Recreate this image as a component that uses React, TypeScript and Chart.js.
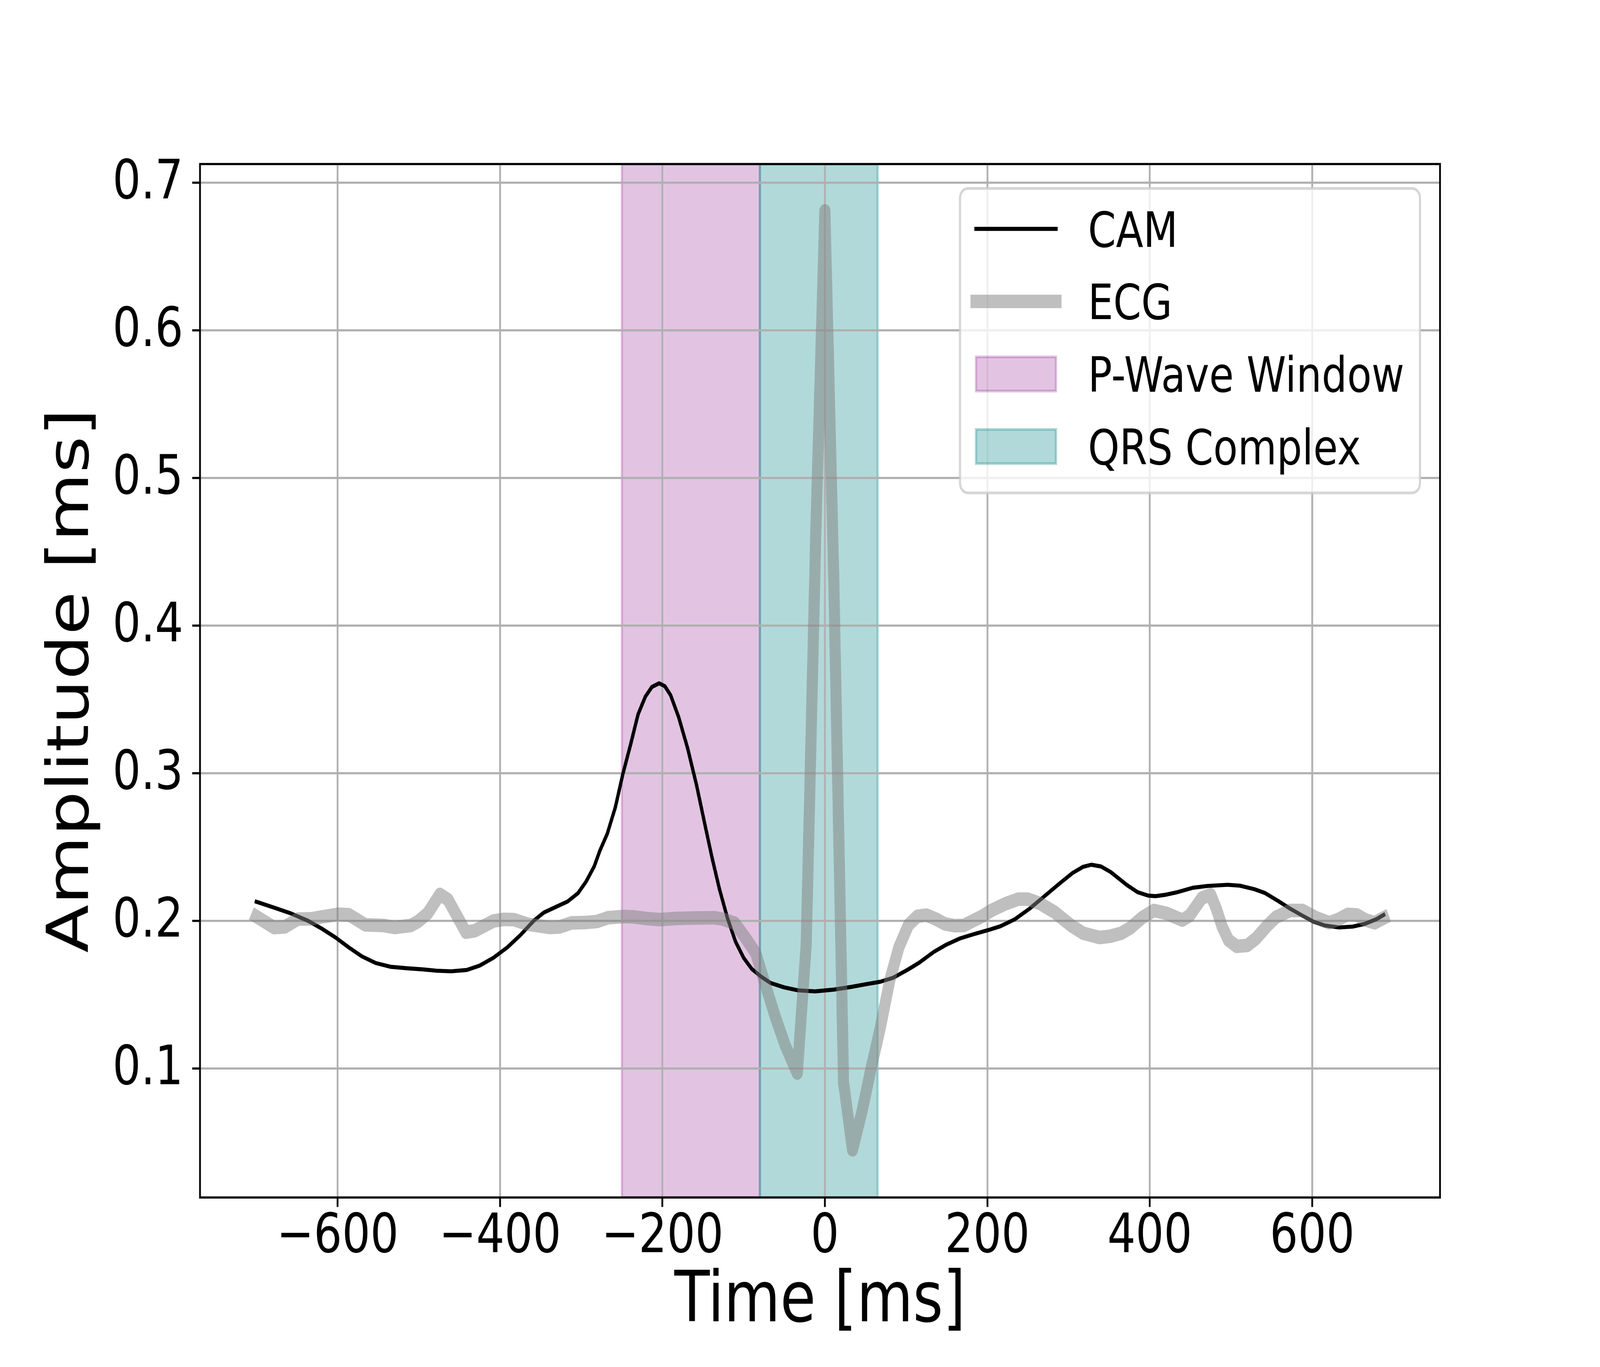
import React, { useEffect, useRef } from "react";
import { Chart, registerables } from "chart.js";

Chart.register(...registerables);

// CAM curve (time in ms, amplitude)
const CAM_TIME = [
  -700, -678, -657, -636, -620, -603, -586, -570, -553, -535, -515, -495, -478, -460, -441, -425,
  -408, -391, -375, -358, -346, -329, -317, -304, -294, -284, -277, -268, -258, -249, -239, -230,
  -221, -213, -204, -197, -190, -180, -169, -158, -148, -139, -130, -120, -110, -100, -90, -79,
  -67, -50, -33, -12, 11, 32, 52, 68, 84, 102, 116, 134, 149, 167, 183, 201,
  216, 234, 252, 270, 289, 305, 318, 328, 340, 352, 372, 385, 398, 407, 420, 434,
  453, 471, 496, 511, 529, 542, 558, 573, 588, 602, 615, 633, 650, 664, 679, 688,
];
const CAM_VALUE = [
  0.213, 0.209, 0.205, 0.2, 0.195, 0.189, 0.182, 0.176, 0.1715, 0.169, 0.168, 0.1672, 0.1663, 0.1659, 0.1668, 0.1698,
  0.1751, 0.1821, 0.1904, 0.2004, 0.2057, 0.2101, 0.2131, 0.2188, 0.2267, 0.237, 0.2477, 0.259, 0.277, 0.299, 0.32, 0.34,
  0.352, 0.3585, 0.361, 0.359, 0.353, 0.338, 0.317, 0.292, 0.266, 0.243, 0.222, 0.202, 0.186, 0.175, 0.1675, 0.1625,
  0.158, 0.155, 0.153, 0.1523, 0.1535, 0.1553, 0.1573, 0.1588, 0.1615, 0.167, 0.1717, 0.179, 0.1838, 0.1883, 0.191, 0.1938,
  0.1964, 0.2012, 0.2083, 0.2166, 0.2254, 0.2325, 0.2367, 0.2381, 0.2369, 0.2331, 0.2243, 0.2195, 0.2172, 0.2168, 0.2178, 0.2195,
  0.2225, 0.2237, 0.2245, 0.2239, 0.2215, 0.2189, 0.2136, 0.2083, 0.2036, 0.1994, 0.197, 0.1956, 0.1962, 0.1979, 0.2012, 0.2041,
];

// ECG curve (time in ms, amplitude)
const ECG_TIME = [
  -700, -678, -665, -649, -632, -620, -599, -586, -566, -543, -530, -510, -501, -489, -474, -464,
  -442, -431, -408, -395, -383, -366, -339, -327, -312, -294, -281, -267, -248, -236, -221, -203,
  -184, -159, -136, -126, -111, -97, -85, -74, -61, -49, -34, -23, -11, 0,
  11, 23, 34, 46, 57, 68, 80, 91, 103, 114, 125, 137, 148, 160, 171, 182,
  194, 205, 223, 238, 250, 265, 283, 303, 318, 338, 351, 365, 376, 391, 405, 420,
  440, 449, 464, 475, 482, 489, 497, 507, 520, 531, 544, 555, 573, 588, 604, 621,
  633, 644, 655, 666, 677, 688,
];
const ECG_VALUE = [
  0.203, 0.1955, 0.196, 0.2013, 0.2015, 0.2027, 0.2046, 0.2042, 0.1974, 0.1969, 0.1956, 0.1969, 0.1996, 0.2052, 0.218, 0.2144,
  0.1924, 0.1934, 0.2, 0.2011, 0.2009, 0.1978, 0.1956, 0.1959, 0.1987, 0.199, 0.1996, 0.2022, 0.203, 0.2028, 0.2017, 0.2009,
  0.2017, 0.202, 0.2022, 0.2013, 0.1985, 0.188, 0.178, 0.158, 0.135, 0.116, 0.097, 0.184, 0.467, 0.681,
  0.43, 0.0906, 0.045, 0.0717, 0.1005, 0.127, 0.16, 0.182, 0.1974, 0.2032, 0.204, 0.2012, 0.198, 0.1968, 0.197, 0.2,
  0.2033, 0.2071, 0.2118, 0.2148, 0.2148, 0.2118, 0.2059, 0.197, 0.1917, 0.1888, 0.1896, 0.1917, 0.1953, 0.2024, 0.2071, 0.2053,
  0.2006, 0.2036, 0.2154, 0.2178, 0.2083, 0.1964, 0.187, 0.1828, 0.1834, 0.1882, 0.1964, 0.2024, 0.2071, 0.2071, 0.2024, 0.1988,
  0.2012, 0.2045, 0.2041, 0.2006, 0.1988, 0.202,
];

const P_WAVE_WINDOW = [-250, -80];
const QRS_WINDOW = [-80, 65];

const X_TICKS = [-600, -400, -200, 0, 200, 400, 600];
const Y_TICKS = [0.1, 0.2, 0.3, 0.4, 0.5, 0.6, 0.7];

const X_LIMITS = [-769.4, 757.4];
const Y_LIMITS = [0.0127, 0.7127];

// sizes (figure drawn at 500 dpi on a 5000 x 3500 backing store)
const PT = 500 / 72;
const FONT = "DejaVu Sans";
const TICK_SIZE = 20 * PT;
const LABEL_SIZE = 26 * PT;
const LEGEND_SIZE = 18 * PT;

const W = 5000;
const H = 3500;
const AREA = { left: 625, right: 4500, top: 420, bottom: 3066 };

const PURPLE = "rgba(128, 0, 128, 0.23)";
const TEAL = "rgba(0, 128, 128, 0.3)";
const ECG_COLOR = "rgba(128, 128, 128, 0.5)";

const SPANS = [
  { range: P_WAVE_WINDOW, color: PURPLE },
  { range: QRS_WINDOW, color: TEAL },
];

const LEGEND_ITEMS = [
  { label: "CAM", kind: "line", color: "#000000", width: 1.5 * PT },
  { label: "ECG", kind: "line", color: ECG_COLOR, width: 5 * PT },
  { label: "P-Wave Window", kind: "patch", color: PURPLE, width: PT },
  { label: "QRS Complex", kind: "patch", color: TEAL, width: PT },
];

const spansPlugin = {
  id: "spans",
  beforeDraw(chart: any) {
    const { ctx, chartArea: a } = chart;
    const x = chart.scales.x;
    ctx.save();
    ctx.beginPath();
    ctx.rect(a.left, a.top, a.right - a.left, a.bottom - a.top);
    ctx.clip();
    for (const s of SPANS) {
      const x0 = x.getPixelForValue(s.range[0]);
      const x1 = x.getPixelForValue(s.range[1]);
      ctx.fillStyle = s.color;
      ctx.fillRect(x0, a.top, x1 - x0, a.bottom - a.top);
      ctx.strokeStyle = s.color;
      ctx.lineWidth = PT;
      ctx.strokeRect(x0, a.top, x1 - x0, a.bottom - a.top);
    }
    ctx.restore();
  },
};

const framePlugin = {
  id: "frame",
  afterDatasetsDraw(chart: any) {
    const { ctx, chartArea: a } = chart;
    ctx.save();
    ctx.strokeStyle = "#000000";
    ctx.lineWidth = 0.8 * PT;
    ctx.lineJoin = "miter";
    ctx.strokeRect(a.left, a.top, a.right - a.left, a.bottom - a.top);
    ctx.restore();
  },
};

const legendPlugin = {
  id: "mplLegend",
  afterDraw(chart: any) {
    const { ctx, chartArea: a } = chart;
    const fs = LEGEND_SIZE;
    const w = 11.5 * fs;
    const h = 6.236 * fs;
    const right = a.right - 0.5 * fs;
    const top = a.top + 0.5 * fs;
    const left = right - w;
    const r = 0.2 * fs;

    ctx.save();
    ctx.beginPath();
    ctx.moveTo(left + r, top);
    ctx.lineTo(right - r, top);
    ctx.arcTo(right, top, right, top + r, r);
    ctx.lineTo(right, top + h - r);
    ctx.arcTo(right, top + h, right - r, top + h, r);
    ctx.lineTo(left + r, top + h);
    ctx.arcTo(left, top + h, left, top + h - r, r);
    ctx.lineTo(left, top + r);
    ctx.arcTo(left, top, left + r, top, r);
    ctx.closePath();
    ctx.fillStyle = "rgba(255, 255, 255, 0.8)";
    ctx.fill();
    ctx.strokeStyle = "rgba(204, 204, 204, 0.8)";
    ctx.lineWidth = PT;
    ctx.stroke();

    const hx0 = left + 0.4 * fs;
    const hx1 = hx0 + 2 * fs;
    const tx = hx1 + 0.8 * fs;
    ctx.font = `${fs}px "${FONT}"`;
    ctx.textAlign = "left";
    ctx.textBaseline = "alphabetic";

    LEGEND_ITEMS.forEach((item, i) => {
      const cy = top + 0.828 * fs + i * 1.486 * fs;
      if (item.kind === "line") {
        ctx.beginPath();
        ctx.lineCap = "square";
        ctx.strokeStyle = item.color;
        ctx.lineWidth = item.width;
        ctx.moveTo(hx0, cy);
        ctx.lineTo(hx1, cy);
        ctx.stroke();
      } else {
        const ph = 0.7 * fs;
        ctx.fillStyle = item.color;
        ctx.fillRect(hx0, cy - ph / 2, hx1 - hx0, ph);
        ctx.strokeStyle = item.color;
        ctx.lineWidth = item.width;
        ctx.strokeRect(hx0, cy - ph / 2, hx1 - hx0, ph);
      }
      ctx.fillStyle = "#000000";
      ctx.fillText(item.label, tx, cy + 0.3645 * fs);
    });
    ctx.restore();
  },
};

export default function App() {
  const chartRef = useRef<HTMLCanvasElement>(null);
  const chartInstance = useRef<Chart | null>(null);

  // the browser viewport can be narrower than the figure, so the 5000 x 3500
  // drawing is shown scaled to whatever the viewport is
  const viewW = typeof window !== "undefined" ? Math.min(window.innerWidth || W, W) : W;
  const viewH = typeof window !== "undefined" ? Math.min(window.innerHeight || H, H) : H;

  useEffect(() => {
    if (!chartRef.current) return;
    if (chartInstance.current) {
      chartInstance.current.destroy();
    }

    const ctx = chartRef.current.getContext("2d");
    if (!ctx) return;

    const camPoints = CAM_TIME.map((t, i) => ({ x: t, y: CAM_VALUE[i] }));
    const ecgPoints = ECG_TIME.map((t, i) => ({ x: t, y: ECG_VALUE[i] }));

    chartInstance.current = new Chart(ctx, {
      type: "line",
      data: {
        datasets: [
          {
            label: "CAM",
            data: camPoints,
            borderColor: "#000000",
            borderWidth: 1.5 * PT,
            borderJoinStyle: "round",
            borderCapStyle: "square",
            pointRadius: 0,
            fill: false,
            order: 2,
          },
          {
            label: "ECG",
            data: ecgPoints,
            borderColor: ECG_COLOR,
            borderWidth: 5 * PT,
            borderJoinStyle: "round",
            borderCapStyle: "square",
            pointRadius: 0,
            fill: false,
            order: 1,
          },
        ],
      },
      options: {
        responsive: false,
        animation: false,
        devicePixelRatio: 1,
        layout: {
          padding: { left: 0, top: AREA.top, right: W - AREA.right, bottom: 0 },
        },
        plugins: {
          legend: { display: false },
          tooltip: { enabled: false },
        },
        scales: {
          x: {
            type: "linear",
            min: X_LIMITS[0],
            max: X_LIMITS[1],
            afterBuildTicks: (scale: any) => {
              scale.ticks = X_TICKS.map((v) => ({ value: v }));
            },
            afterFit: (scale: any) => {
              scale.height = H - AREA.bottom;
            },
            grid: {
              color: "#b0b0b0",
              lineWidth: 0.8 * PT,
              drawTicks: true,
              tickLength: 3.5 * PT,
              tickWidth: 0.8 * PT,
              tickColor: "#000000",
            },
            border: { display: false },
            ticks: {
              autoSkip: false,
              maxRotation: 0,
              minRotation: 0,
              padding: 10,
              color: "#000000",
              font: { family: FONT, size: TICK_SIZE, lineHeight: 1 },
              callback: (v: any) => (Number(v) < 0 ? "\u2212" + Math.abs(Number(v)) : String(v)),
            },
            title: {
              display: true,
              text: "Time [ms]",
              color: "#000000",
              font: { family: FONT, size: LABEL_SIZE, lineHeight: 1 },
              padding: { top: 0, bottom: 74 },
            },
          },
          y: {
            type: "linear",
            min: Y_LIMITS[0],
            max: Y_LIMITS[1],
            afterBuildTicks: (scale: any) => {
              scale.ticks = Y_TICKS.map((v) => ({ value: v }));
            },
            afterFit: (scale: any) => {
              scale.width = AREA.left;
            },
            grid: {
              color: "#b0b0b0",
              lineWidth: 0.8 * PT,
              drawTicks: true,
              tickLength: 3.5 * PT,
              tickWidth: 0.8 * PT,
              tickColor: "#000000",
            },
            border: { display: false },
            ticks: {
              autoSkip: false,
              padding: 28,
              labelOffset: 4,
              color: "#000000",
              font: { family: FONT, size: TICK_SIZE, lineHeight: 1 },
              callback: (v: any) => Number(v).toFixed(1),
            },
            title: {
              display: true,
              text: "Amplitude [ms]",
              color: "#000000",
              font: { family: FONT, size: LABEL_SIZE, lineHeight: 1 },
              padding: { top: 138, bottom: 0 },
            },
          },
        },
      },
      plugins: [spansPlugin, framePlugin, legendPlugin],
    } as any);

    return () => {
      if (chartInstance.current) {
        chartInstance.current.destroy();
        chartInstance.current = null;
      }
    };
  }, []);

  return (
    <div
      style={{
        position: "absolute",
        left: 0,
        top: 0,
        width: viewW,
        height: viewH,
        overflow: "hidden",
        background: "#ffffff",
      }}
    >
      <canvas
        ref={chartRef}
        width={W}
        height={H}
        style={{ display: "block", width: viewW, height: viewH }}
      />
    </div>
  );
}
